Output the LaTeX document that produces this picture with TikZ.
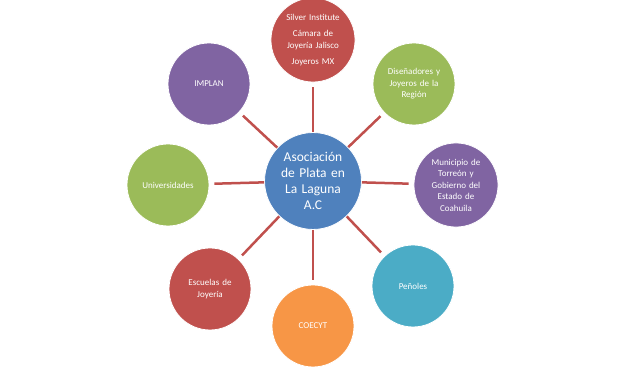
\documentclass[tikz,border=0pt]{standalone}
\usepackage{fontspec}
\setmainfont{Carlito}
\definecolor{cblue}{HTML}{4F81BD}
\definecolor{cred}{HTML}{C0504D}
\definecolor{cgreen}{HTML}{9BBB59}
\definecolor{cpurple}{HTML}{8064A2}
\definecolor{caqua}{HTML}{4BACC6}
\definecolor{corange}{HTML}{F79646}
\begin{document}
\begin{tikzpicture}[x=1pt,y=-1pt,
  bubble/.style={circle,minimum size=82pt,inner sep=0pt,draw=white,line width=0.8pt,
    text=white,font=\fontsize{9}{11.5}\selectfont,align=center,text width=66pt},
  hub/.style={bubble,minimum size=84pt,font=\fontsize{13.5}{16}\selectfont,text width=78pt},
  link/.style={draw=cred,line width=2.5pt,shorten >=5pt}]
\useasboundingbox (0,0) rectangle (625,371);
\node[hub,fill=cblue] (c) at (313,181) {Asociación\\de Plata en\\La Laguna\\A.C};
\node[bubble,fill=cred] (n1) at (313,40) {Silver Institute\\[5pt]Cámara de\\Joyería Jalisco\\[5pt]Joyeros MX};
\node[bubble,fill=cgreen] (n2) at (414,84) {Diseñadores y\\Joyeros de la\\Región};
\node[bubble,fill=cpurple] (n3) at (456,185) {Municipio de\\Torreón y\\Gobierno del\\Estado de\\Coahuila};
\node[bubble,fill=caqua] (n4) at (413,286) {Peñoles};
\node[bubble,fill=corange] (n5) at (313,326) {COECYT};
\node[bubble,fill=cred] (n6) at (210,289) {Escuelas de\\Joyería};
\node[bubble,fill=cgreen] (n7) at (168,185) {Universidades};
\node[bubble,fill=cpurple] (n8) at (209,84) {IMPLAN};
\foreach \n in {n1,n2,n3,n4,n5,n6,n7,n8} \draw[link] (c) -- (\n);
\end{tikzpicture}
\end{document}
